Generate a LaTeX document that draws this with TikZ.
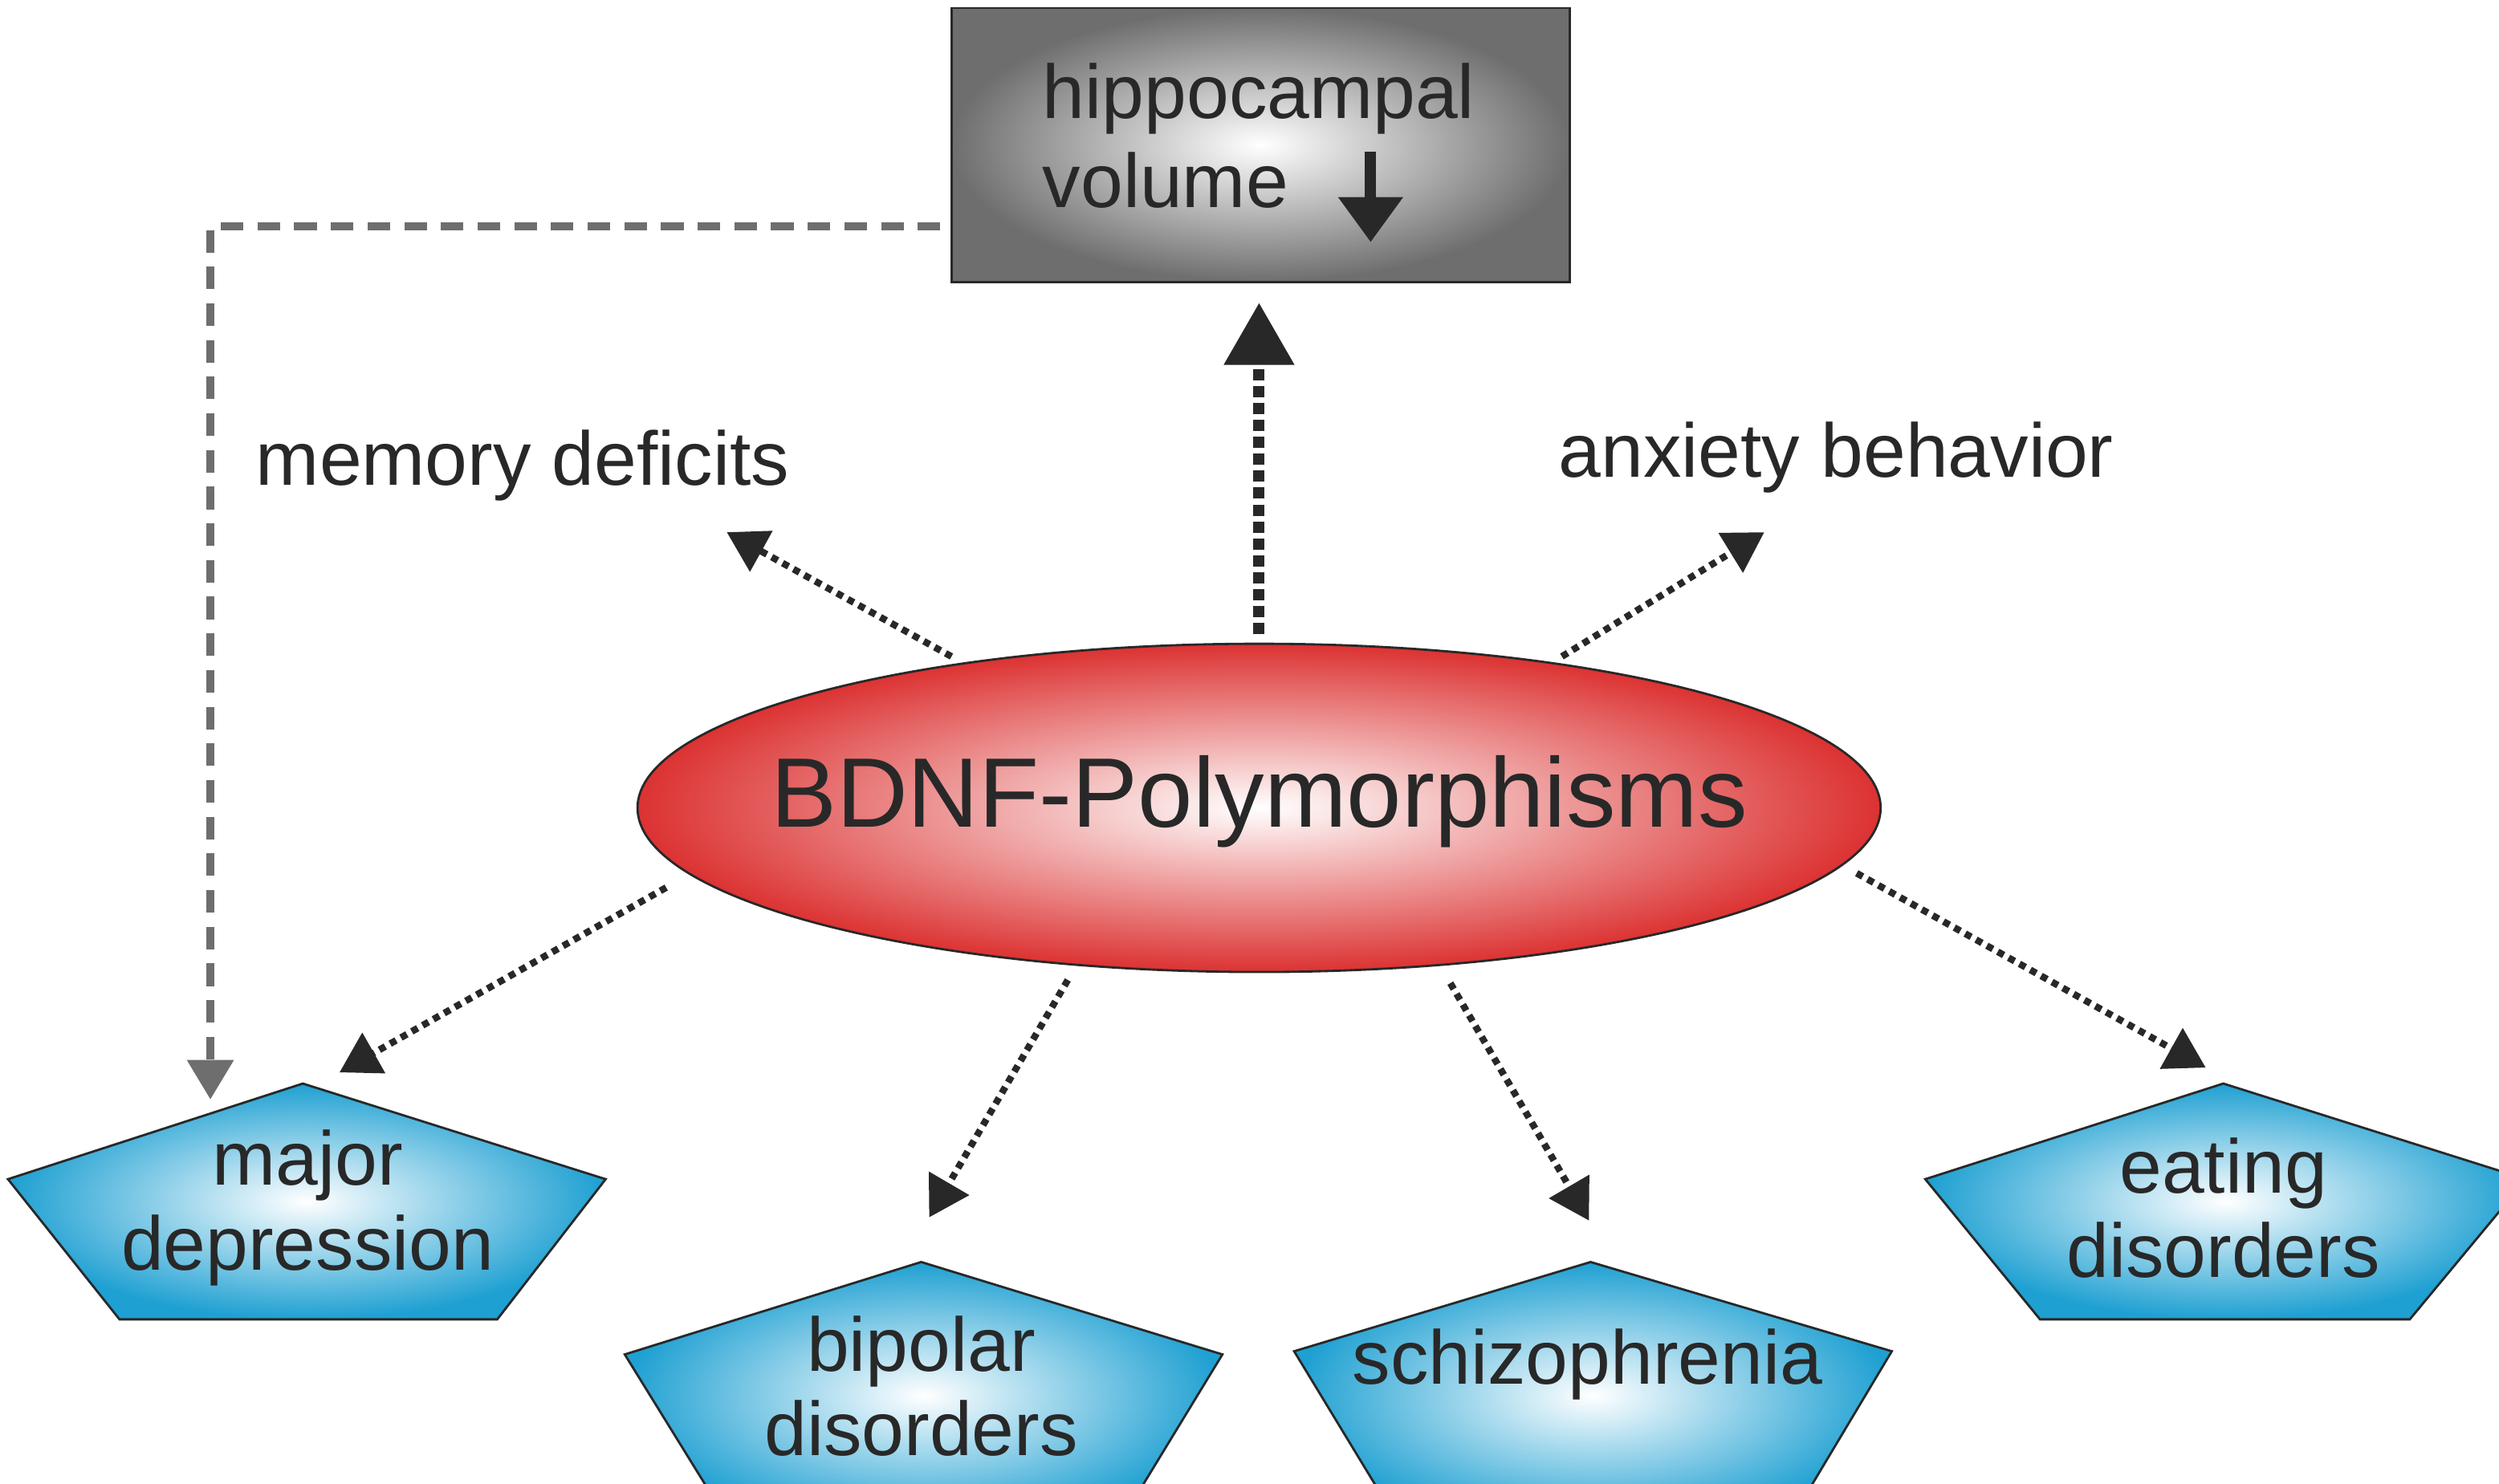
\documentclass[tikz,border=0pt]{standalone}
\usepackage{fontspec}
\setmainfont{Liberation Sans}
\usetikzlibrary{arrows.meta,shapes.geometric}
\definecolor{cbl}{RGB}{30,160,210}
\definecolor{cred}{RGB}{220,50,50}
\definecolor{cgr}{RGB}{110,110,110}
\definecolor{ctx}{RGB}{40,40,40}
\begin{document}
\begin{tikzpicture}[x=0.01985cm,y=-0.01985cm,
 pent/.style={draw=ctx,line width=0.8pt,inner color=white,outer color=cbl},
 lbl/.style={text=ctx,font=\fontsize{27}{30}\selectfont,align=center},
 dar/.style={draw=ctx,line width=2.4pt,dotted,-{Triangle[length=14pt,width=16pt]}},
]
\useasboundingbox (0,0) rectangle (1568,931);
\begin{scope}
\clip (0,0) rectangle (1568,931);
% box
\shade[inner color=white,outer color=cgr,draw=ctx,line width=0.8pt] (597,5) rectangle (985,177);
\node[lbl,anchor=west] (hv1) at (648,62) {hippocampal};
\node[lbl,anchor=west] (hv2) at (648,113) {volume};
\coordinate (da) at (860,95); \coordinate (db) at (860,152);
\draw[ctx,line width=4pt,-{Triangle[length=16pt,width=22pt]}] (da) -- (db);
% ellipse
\shade[inner color=white,outer color=cred,draw=ctx,line width=0.8pt] (790,507) ellipse (390 and 103);
\node[text=ctx,font=\fontsize{35}{40}\selectfont] (bd) at (790,503) {BDNF-Polymorphisms};
% pentagons
\shade[pent] (190,680) -- (380,740) -- (312,828) -- (75,828) -- (5,740) -- cycle;
\node[lbl] (md) at (193,758) {major\\depression};
\shade[pent] (578,792) -- (767,850) -- (700,960) -- (460,960) -- (392,850) -- cycle;
\node[lbl] (bp) at (578,870) {bipolar\\disorders};
\shade[pent] (998,792) -- (1187,848) -- (1120,960) -- (880,960) -- (812,848) -- cycle;
\node[lbl] (sz) at (996,856) {schizophrenia};
\shade[pent] (1395,680) -- (1585,740) -- (1512,828) -- (1280,828) -- (1208,740) -- cycle;
\node[lbl] (ed) at (1395,758) {eating\\disorders};
\end{scope}
\node[lbl] (mem) at (328,292) {memory deficits};
\node[lbl] (anx) at (1152,287) {anxiety behavior};
% arrows
\coordinate (u1) at (790,398); \coordinate (u2) at (790,190);
\draw[ctx,line width=4pt,dotted,-{Triangle[length=22pt,width=24pt]}] (u1) -- (u2);
\coordinate (m1) at (597,412); \coordinate (m2) at (456,334);
\draw[dar] (m1) -- (m2);
\coordinate (a1) at (980,412); \coordinate (a2) at (1107,334);
\draw[dar] (a1) -- (a2);
\coordinate (j1) at (418,557); \coordinate (j2) at (213,673);
\draw[dar] (j1) -- (j2);
\coordinate (b1) at (670,615); \coordinate (b2) at (583,764);
\draw[dar] (b1) -- (b2);
\coordinate (s1) at (910,617); \coordinate (s2) at (997,766);
\draw[dar] (s1) -- (s2);
\coordinate (e1) at (1165,548); \coordinate (e2) at (1384,670);
\draw[dar] (e1) -- (e2);
\coordinate (g1) at (590,142); \coordinate (g2) at (132,690);
\draw[cgr,line width=2.6pt,dash pattern=on 8pt off 5pt,-{Triangle[length=14pt,width=16pt]}] (g1) -| (g2);
\end{tikzpicture}
\end{document}
